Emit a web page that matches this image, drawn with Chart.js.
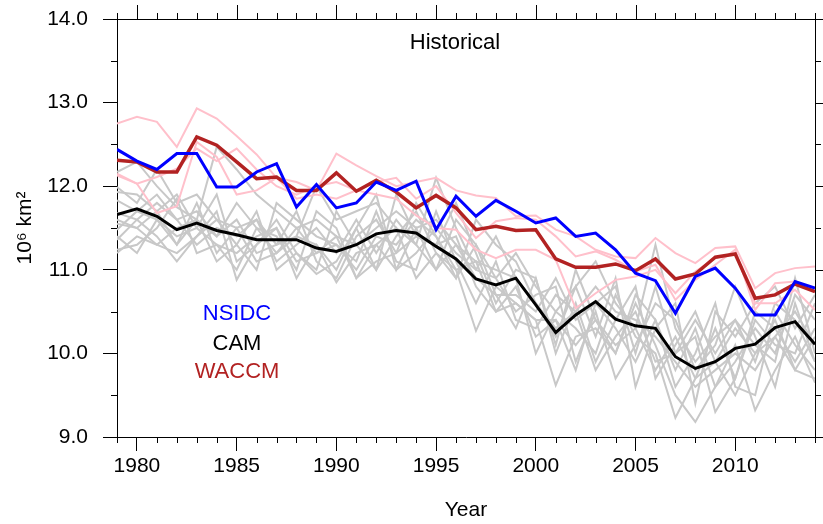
<!DOCTYPE html>
<html>
<head>
<meta charset="utf-8">
<script src="https://cdn.jsdelivr.net/npm/chart.js@4.4.1/dist/chart.umd.min.js"></script>
<style>
  html, body { margin: 0; padding: 0; background: #fff; }
  #wrap { width: 823px; height: 524px; }
</style>
</head>
<body>
<div id="wrap"><canvas id="iceChart" width="823" height="524"></canvas></div>
<script>
// years and tick labels
var years = [];
for (var yr = 1979; yr <= 2014; yr++) years.push(yr);
var xTicks = [1980, 1985, 1990, 1995, 2000, 2005, 2010];
var yTicks = [9, 10, 11, 12, 13, 14];

// observations + ensemble means (10^6 km2)
var nsidc = [12.44, 12.30, 12.20, 12.39, 12.39, 11.99, 11.99, 12.17, 12.27, 11.75,
             12.02, 11.74, 11.80, 12.05, 11.95, 12.06, 11.48, 11.88, 11.64, 11.83,
             11.70, 11.56, 11.62, 11.40, 11.44, 11.24, 10.96, 10.87, 10.48, 10.92,
             11.02, 10.78, 10.46, 10.46, 10.86, 10.78];
var waccm = [12.31, 12.29, 12.17, 12.17, 12.59, 12.49, 12.29, 12.09, 12.11, 11.95,
             11.95, 12.16, 11.94, 12.07, 11.93, 11.74, 11.89, 11.74, 11.48, 11.52,
             11.47, 11.48, 11.13, 11.03, 11.03, 11.07, 10.99, 11.13, 10.89, 10.95,
             11.15, 11.19, 10.66, 10.70, 10.83, 10.74];
var cam   = [11.66, 11.73, 11.64, 11.48, 11.56, 11.47, 11.42, 11.36, 11.36, 11.36,
             11.26, 11.22, 11.30, 11.43, 11.47, 11.44, 11.28, 11.13, 10.89, 10.82,
             10.90, 10.58, 10.25, 10.46, 10.62, 10.41, 10.33, 10.30, 9.96, 9.82,
             9.90, 10.06, 10.11, 10.31, 10.38, 10.11];

// WACCM members
var waccm1 = [12.75, 12.83, 12.77, 12.47, 12.93, 12.81, 12.60, 12.38, 12.10, 12.05,
              11.95, 12.39, 12.25, 12.12, 12.00, 12.05, 12.10, 11.95, 11.89, 11.86,
              11.64, 11.65, 11.48, 11.40, 11.24, 11.16, 11.14, 11.38, 11.20, 11.08,
              11.26, 11.28, 10.78, 10.96, 11.02, 11.04];
var waccm2 = [12.15, 12.03, 12.11, 12.21, 12.45, 12.30, 12.45, 12.20, 12.00, 11.90,
              12.00, 12.05, 11.95, 12.05, 12.10, 11.85, 12.00, 11.68, 11.38, 11.58,
              11.62, 11.60, 11.40, 11.16, 11.22, 11.12, 10.98, 11.06, 10.64, 10.88,
              11.06, 11.24, 10.52, 10.84, 10.86, 10.74];
var waccm3 = [12.13, 12.03, 11.68, 11.76, 12.53, 12.35, 11.90, 11.95, 12.10, 11.85,
              11.90, 11.85, 11.95, 11.90, 11.85, 11.65, 11.50, 11.48, 11.24, 11.14,
              11.24, 11.24, 11.12, 10.54, 10.72, 10.88, 10.92, 11.00, 10.72, 10.98,
              11.14, 11.20, 10.60, 10.60, 10.76, 10.52];

// CAM members
var cam1  = [12.17, 12.29, 12.00, 11.75, 11.60, 12.47, 12.20, 11.90, 11.70, 11.50,
             11.60, 11.40, 11.30, 11.50, 11.70, 11.50, 11.60, 11.30, 11.10, 11.00,
             10.90, 10.60, 10.30, 10.50, 10.80, 10.50, 10.40, 10.20, 9.90, 9.60,
             9.80, 10.00, 9.80, 10.20, 10.50, 10.10];
var cam2  = [11.99, 11.80, 12.20, 11.80, 11.90, 11.60, 11.50, 11.60, 11.30, 11.40,
             12.00, 11.60, 11.70, 11.80, 11.50, 11.30, 12.10, 11.50, 11.00, 10.90,
             11.20, 10.80, 10.50, 10.80, 11.10, 10.60, 10.30, 11.30, 10.30, 9.90,
             10.20, 10.40, 9.90, 10.60, 10.40, 9.90];
var cam3  = [11.93, 11.90, 11.70, 11.90, 11.50, 11.30, 11.20, 11.40, 11.50, 11.10,
             11.20, 11.30, 11.00, 11.40, 11.30, 11.60, 11.40, 11.00, 10.27, 10.80,
             10.60, 10.40, 9.62, 10.20, 10.30, 10.00, 10.60, 10.10, 9.50, 9.18,
             9.60, 10.10, 9.32, 9.80, 10.20, 9.65];
var cam4  = [11.83, 11.70, 11.90, 11.60, 11.70, 11.40, 11.60, 11.20, 11.30, 11.70,
             11.10, 10.90, 11.40, 11.60, 11.20, 11.40, 11.30, 11.40, 10.80, 10.50,
             10.80, 10.20, 10.40, 9.80, 10.60, 10.30, 9.90, 10.40, 9.80, 10.30,
             9.60, 9.90, 10.30, 10.00, 10.70, 10.40];
var cam5  = [11.68, 11.60, 11.40, 11.10, 11.40, 11.70, 10.88, 11.30, 11.60, 11.20,
             10.95, 11.10, 11.50, 11.00, 11.40, 11.70, 11.20, 10.90, 11.30, 10.70,
             10.30, 10.90, 10.00, 10.60, 9.90, 10.40, 10.80, 9.70, 10.10, 10.50,
             9.90, 9.50, 10.00, 10.40, 9.80, 10.20];
var cam6  = [11.48, 11.70, 11.60, 11.30, 11.80, 11.20, 11.50, 11.10, 11.20, 11.40,
             11.30, 10.85, 11.20, 11.30, 11.00, 11.20, 11.50, 11.20, 11.00, 11.40,
             10.90, 10.00, 10.50, 10.30, 10.00, 10.70, 10.20, 10.00, 9.23, 9.70,
             10.30, 9.70, 10.40, 10.10, 10.00, 10.60];
var cam7  = [11.36, 11.60, 11.80, 11.60, 11.30, 11.50, 11.40, 11.60, 11.10, 11.30,
             11.50, 11.20, 11.60, 11.20, 11.60, 11.30, 11.00, 11.60, 11.30, 10.90,
             10.50, 10.70, 10.80, 9.90, 10.50, 9.70, 10.10, 10.60, 10.40, 9.80,
             10.10, 10.80, 10.20, 9.60, 10.60, 9.90];
var cam8  = [11.24, 11.30, 11.50, 11.85, 11.20, 11.30, 11.00, 11.50, 11.40, 11.00,
             11.70, 11.50, 10.90, 11.10, 11.20, 11.80, 11.40, 10.90, 11.60, 11.30,
             11.10, 10.60, 10.20, 10.80, 10.20, 10.90, 9.60, 10.30, 10.60, 9.40,
             10.50, 10.20, 10.60, 10.80, 10.30, 10.70];
var cam9  = [11.20, 11.40, 11.30, 11.50, 11.60, 11.10, 11.30, 11.00, 11.80, 11.60,
             11.40, 11.30, 11.10, 11.70, 11.10, 11.00, 11.70, 11.10, 10.60, 11.10,
             10.40, 10.30, 10.70, 10.50, 9.80, 10.20, 10.50, 9.90, 10.00, 10.20,
             9.30, 9.70, 10.50, 10.30, 9.90, 10.30];
var cam10 = [11.60, 11.50, 11.30, 11.20, 11.40, 11.60, 11.30, 11.70, 11.00, 11.20,
             11.00, 11.70, 11.30, 11.00, 11.90, 11.40, 11.30, 11.80, 11.20, 10.60,
             11.00, 10.90, 10.10, 11.00, 10.40, 10.00, 10.70, 10.40, 9.60, 10.00,
             10.60, 9.60, 9.50, 10.50, 10.10, 9.80];
var cam11 = [11.40, 11.20, 11.60, 11.40, 11.50, 11.90, 11.10, 11.30, 11.50, 10.90,
             11.30, 11.00, 11.50, 11.90, 11.00, 11.50, 11.00, 11.30, 10.90, 10.70,
             10.70, 10.50, 10.90, 10.40, 10.60, 10.80, 10.00, 10.80, 10.00, 10.40,
             10.00, 10.40, 10.10, 9.90, 10.90, 10.00];
var cam12 = [11.55, 11.50, 11.70, 11.30, 11.60, 11.40, 11.80, 11.50, 11.20, 11.50,
             11.20, 11.40, 10.90, 11.30, 11.50, 10.90, 11.20, 11.00, 11.10, 10.50,
             10.60, 10.40, 10.40, 10.10, 10.40, 10.10, 10.30, 9.80, 10.20, 9.70,
             9.90, 10.30, 10.00, 10.20, 9.80, 9.70];

var camMembers = [cam1, cam2, cam3, cam4, cam5, cam6, cam7, cam8, cam9, cam10, cam11, cam12];
var waccmMembers = [waccm1, waccm2, waccm3];

var FONT = 'Liberation Sans, Arial, Helvetica, sans-serif';

function pts(vals) {
  return vals.map(function (v, i) { return { x: years[i], y: v }; });
}

function line(vals, color, width) {
  return {
    data: pts(vals),
    borderColor: color,
    borderWidth: width,
    pointRadius: 0,
    tension: 0,
    fill: false,
    borderJoinStyle: 'miter'
  };
}

// first dataset ends up on top
var datasets = [
  line(nsidc, '#0000ff', 3),
  line(waccm, '#b22222', 3.5),
  line(cam, '#000000', 3)
];
waccmMembers.forEach(function (m) { datasets.push(line(m, '#ffc0cb', 2)); });
camMembers.forEach(function (m) { datasets.push(line(m, '#c8c8c8', 2)); });

// minor ticks, top/right axes and the in-plot texts
var extras = {
  id: 'extras',
  afterDraw: function (chart) {
    var ctx = chart.ctx, a = chart.chartArea;
    var xs = chart.scales.x, ys = chart.scales.y;
    ctx.save();
    ctx.strokeStyle = '#000';
    ctx.lineWidth = 1;
    ctx.beginPath();
    // frame top + right
    ctx.moveTo(a.left, a.top + 0.5); ctx.lineTo(a.right, a.top + 0.5);
    ctx.moveTo(a.right + 0.5, a.top); ctx.lineTo(a.right + 0.5, a.bottom);
    years.forEach(function (y) {
      var px = Math.round(xs.getPixelForValue(y)) + 0.5;
      var major = y % 5 === 0;
      var len = major ? 14 : 6;
      ctx.moveTo(px, a.top); ctx.lineTo(px, a.top - len);
      if (!major) { ctx.moveTo(px, a.bottom); ctx.lineTo(px, a.bottom + len); }
    });
    for (var v = 9; v <= 14.01; v += 0.5) {
      var py = Math.round(ys.getPixelForValue(v)) + 0.5;
      var maj = Math.abs(v - Math.round(v)) < 0.01;
      var l = maj ? 14 : 6;
      ctx.moveTo(a.right, py); ctx.lineTo(a.right + l, py);
      if (!maj) { ctx.moveTo(a.left, py); ctx.lineTo(a.left - l, py); }
    }
    ctx.stroke();

    ctx.textAlign = 'center';
    ctx.textBaseline = 'alphabetic';
    ctx.font = '22px ' + FONT;
    ctx.fillStyle = '#000';
    ctx.fillText('Historical', 455, 49);
    ctx.fillStyle = '#0000ff';
    ctx.fillText('NSIDC', 237, 320);
    ctx.fillStyle = '#000';
    ctx.fillText('CAM', 237, 350);
    ctx.fillStyle = '#b22222';
    ctx.fillText('WACCM', 237, 378);
    ctx.restore();
  }
};

var ctxC = document.getElementById('iceChart').getContext('2d');
var iceChart = new Chart(ctxC, {
  type: 'line',
  data: { datasets: datasets },
  options: {
    responsive: false,
    animation: false,
    layout: { padding: { top: 19, right: 8, left: 0, bottom: 0 } },
    plugins: { legend: { display: false }, tooltip: { enabled: false } },
    scales: {
      x: {
        type: 'linear',
        min: 1979,
        max: 2014,
        afterBuildTicks: function (s) { s.ticks = xTicks.map(function (v) { return { value: v }; }); },
        afterFit: function (s) { s.height = 87; s.paddingLeft = 0; s.paddingRight = 0; },
        grid: { display: true, drawOnChartArea: false, drawTicks: true, tickLength: 14, color: '#000' },
        border: { display: true, color: '#000', width: 1 },
        ticks: {
          color: '#000', padding: 3, maxRotation: 0, autoSkip: false,
          font: { family: FONT, size: 21 },
          callback: function (v) { return String(v); }
        },
        title: {
          display: true, text: 'Year', color: '#000',
          font: { family: FONT, size: 21 },
          padding: { top: 0, bottom: 1 }
        }
      },
      y: {
        min: 9,
        max: 14,
        afterBuildTicks: function (s) { s.ticks = yTicks.map(function (v) { return { value: v }; }); },
        afterFit: function (s) { s.width = 117; s.paddingTop = 0; s.paddingBottom = 0; },
        grid: { display: true, drawOnChartArea: false, drawTicks: true, tickLength: 14, color: '#000' },
        border: { display: true, color: '#000', width: 1 },
        ticks: {
          color: '#000', padding: 15,
          font: { family: FONT, size: 21 },
          callback: function (v) { return v.toFixed(1); }
        },
        title: {
          display: true, text: '10\u2076 km\u00b2', color: '#000',
          font: { family: FONT, size: 21 },
          padding: { top: 13, bottom: 0 }
        }
      }
    }
  },
  plugins: [extras]
});
</script>
</body>
</html>
